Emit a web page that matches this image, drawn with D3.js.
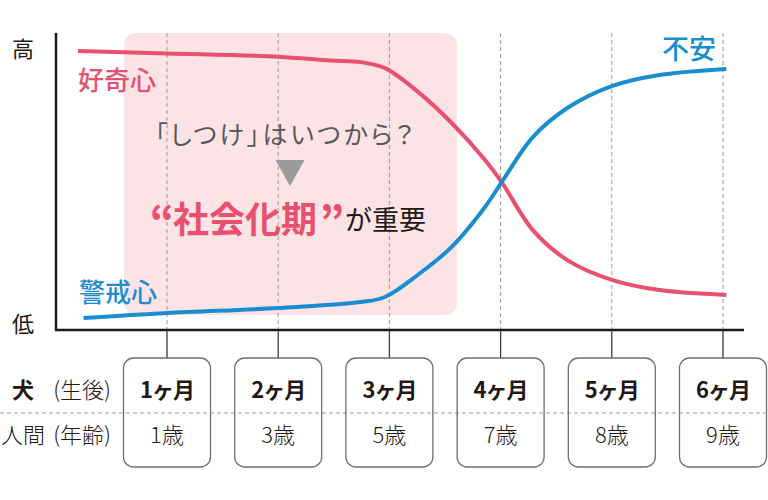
<!DOCTYPE html>
<html>
<head>
<meta charset="utf-8">
<script src="https://cdn.jsdelivr.net/npm/d3@7"></script>
<style>
  body { margin: 0; background: #fff; }
  svg { display: block; font-family: "Noto Sans CJK JP", "Noto Sans", sans-serif; }
  .palt { font-feature-settings: "palt"; }
</style>
</head>
<body>
<svg id="chart" width="768" height="500"></svg>
<script>
(function () {
  'use strict';

  // x = age of the dog in months, y = strength (0 = 低, 100 = 高)
  var months = [1, 2, 3, 4, 5, 6];
  var dogLabels = ['1ヶ月', '2ヶ月', '3ヶ月', '4ヶ月', '5ヶ月', '6ヶ月'];
  var humanLabels = ['1歳', '3歳', '5歳', '7歳', '8歳', '9歳'];

  // 好奇心 (curiosity)
  var curiosity = [
    [0.2, 93.0], [1.0, 92.2], [2.0, 91.1], [2.47, 89.8], [2.74, 89.3],
    [2.96, 87.3], [3.26, 79.3], [3.56, 69.0], [3.86, 56.7], [4.01, 49.3],
    [4.29, 33.3], [4.6, 23.3], [5.0, 16.7], [5.43, 13.3], [6.03, 11.7]
  ];
  // 警戒心 -> 不安 (caution)
  var caution = [
    [0.25, 4.0], [1.0, 5.7], [2.0, 7.3], [2.74, 9.3], [2.96, 11.0],
    [3.26, 18.5], [3.56, 27.7], [3.86, 41.0], [4.01, 49.3], [4.29, 64.3],
    [4.6, 74.0], [5.0, 81.3], [5.43, 85.0], [6.03, 87.0]
  ];

  var RED = '#e8506e';
  var BLUE = '#1a8dd0';
  var INK = '#231815';

  var svg = d3.select('#chart');

  var x = d3.scaleLinear().domain([1, 6]).range([167, 723]);
  var y = d3.scaleLinear().domain([0, 100]).range([330, 30]);

  var axisLeft = 56;
  var axisRight = 744;
  var axisY = y(0);
  var plotTop = 33;

  // socialization period highlight
  svg.append('rect')
    .attr('x', 124)
    .attr('y', plotTop)
    .attr('width', 457 - 124)
    .attr('height', 315 - plotTop)
    .attr('rx', 12)
    .attr('fill', '#fce4e6');

  // dashed month gridlines
  svg.selectAll('.grid')
    .data(months)
    .enter()
    .append('line')
    .attr('class', 'grid')
    .attr('x1', function(d) { return x(d); })
    .attr('x2', function(d) { return x(d); })
    .attr('y1', plotTop)
    .attr('y2', axisY)
    .attr('stroke', '#9a9a9a')
    .attr('stroke-width', 1)
    .attr('stroke-dasharray', '4,3');

  // text inside the highlight
  var cx = 290;
  svg.append('text')
    .attr('class', 'palt')
    .attr('x', 155)
    .attr('y', 133)
    .attr('dominant-baseline', 'central')
    .attr('font-size', 25)
    .attr('letter-spacing', 3)
    .attr('fill', '#595757')
    .text('「しつけ」はいつから？');

  svg.append('path')
    .attr('d', 'M' + (cx - 14.5) + ',160L' + (cx + 14.5) + ',160L' + cx + ',186Z')
    .attr('fill', '#9b9b9b');

  var hy = 217;
  svg.append('text')
    .attr('x', 174)
    .attr('y', hy)
    .attr('text-anchor', 'end')
    .attr('dominant-baseline', 'central')
    .attr('font-size', 38)
    .attr('font-weight', 900)
    .attr('fill', RED)
    .text('“');
  svg.append('text')
    .attr('x', 173)
    .attr('y', hy)
    .attr('dominant-baseline', 'central')
    .attr('font-size', 36)
    .attr('font-weight', 700)
    .attr('fill', RED)
    .text('社会化期');
  svg.append('text')
    .attr('x', 320)
    .attr('y', hy)
    .attr('dominant-baseline', 'central')
    .attr('font-size', 38)
    .attr('font-weight', 900)
    .attr('fill', RED)
    .text('”');
  svg.append('text')
    .attr('x', 345)
    .attr('y', hy + 1)
    .attr('dominant-baseline', 'central')
    .attr('font-size', 27)
    .attr('fill', INK)
    .text('が重要');

  // curves
  var line = d3.line()
    .x(function(d) { return x(d[0]); })
    .y(function(d) { return y(d[1]); })
    .curve(d3.curveCatmullRom.alpha(0.5));

  svg.append('path')
    .datum(curiosity)
    .attr('d', line)
    .attr('fill', 'none')
    .attr('stroke', RED)
    .attr('stroke-width', 4);

  svg.append('path')
    .datum(caution)
    .attr('d', line)
    .attr('fill', 'none')
    .attr('stroke', BLUE)
    .attr('stroke-width', 4);

  // series labels
  svg.append('text')
    .attr('x', 78).attr('y', 78)
    .attr('dominant-baseline', 'central')
    .attr('font-size', 26).attr('font-weight', 500)
    .attr('fill', RED)
    .text('好奇心');
  svg.append('text')
    .attr('x', 79).attr('y', 290)
    .attr('dominant-baseline', 'central')
    .attr('font-size', 26).attr('font-weight', 500)
    .attr('fill', BLUE)
    .text('警戒心');
  svg.append('text')
    .attr('x', 716).attr('y', 47)
    .attr('text-anchor', 'end')
    .attr('dominant-baseline', 'central')
    .attr('font-size', 27).attr('font-weight', 500)
    .attr('fill', BLUE)
    .text('不安');

  // axes
  svg.append('line')
    .attr('x1', axisLeft).attr('x2', axisLeft)
    .attr('y1', plotTop).attr('y2', axisY + 1)
    .attr('stroke', INK).attr('stroke-width', 2.5);
  svg.append('line')
    .attr('x1', axisLeft - 1).attr('x2', axisRight)
    .attr('y1', axisY).attr('y2', axisY)
    .attr('stroke', INK).attr('stroke-width', 2.5);

  svg.append('text')
    .attr('x', 23).attr('y', 47)
    .attr('text-anchor', 'middle')
    .attr('dominant-baseline', 'central')
    .attr('font-size', 22).attr('fill', INK)
    .text('高');
  svg.append('text')
    .attr('x', 23).attr('y', 322)
    .attr('text-anchor', 'middle')
    .attr('dominant-baseline', 'central')
    .attr('font-size', 22).attr('fill', INK)
    .text('低');

  // bottom table
  var boxTop = 358;
  var boxBottom = 467;
  var boxW = 87;
  var row1 = 388;
  var row2 = 433;

  svg.append('line')
    .attr('x1', 0).attr('x2', 768)
    .attr('y1', 413).attr('y2', 413)
    .attr('stroke', '#9a9a9a')
    .attr('stroke-width', 1)
    .attr('stroke-dasharray', '4,3');

  var cell = svg.selectAll('.cell')
    .data(months)
    .enter()
    .append('g')
    .attr('class', 'cell')
    .attr('transform', function(d) { return 'translate(' + x(d) + ',0)'; });

  cell.append('line')
    .attr('y1', axisY).attr('y2', boxTop)
    .attr('stroke', '#3e3a39').attr('stroke-width', 1.3);

  cell.append('rect')
    .attr('x', -boxW / 2)
    .attr('y', boxTop)
    .attr('width', boxW)
    .attr('height', boxBottom - boxTop)
    .attr('rx', 10)
    .attr('fill', 'none')
    .attr('stroke', '#6f6f6f')
    .attr('stroke-width', 1.3);

  cell.append('text')
    .attr('y', row1)
    .attr('text-anchor', 'middle')
    .attr('dominant-baseline', 'central')
    .attr('font-size', 22).attr('font-weight', 700)
    .attr('letter-spacing', -1)
    .attr('fill', INK)
    .text(function(d, i) { return dogLabels[i]; });

  cell.append('text')
    .attr('y', row2)
    .attr('text-anchor', 'middle')
    .attr('dominant-baseline', 'central')
    .attr('font-size', 22).attr('font-weight', 300)
    .attr('fill', INK)
    .text(function(d, i) { return humanLabels[i]; });

  // row headers
  svg.append('text')
    .attr('x', 12).attr('y', row1)
    .attr('dominant-baseline', 'central')
    .attr('font-size', 22).attr('font-weight', 700)
    .attr('fill', INK)
    .text('犬');
  svg.append('text')
    .attr('x', 111).attr('y', row1)
    .attr('text-anchor', 'end')
    .attr('dominant-baseline', 'central')
    .attr('font-size', 22).attr('font-weight', 300)
    .attr('fill', INK)
    .text('(生後)');
  svg.append('text')
    .attr('x', 1).attr('y', row2)
    .attr('dominant-baseline', 'central')
    .attr('font-size', 22).attr('font-weight', 300)
    .attr('fill', INK)
    .text('人間');
  svg.append('text')
    .attr('x', 111).attr('y', row2)
    .attr('text-anchor', 'end')
    .attr('dominant-baseline', 'central')
    .attr('font-size', 22).attr('font-weight', 300)
    .attr('fill', INK)
    .text('(年齢)');
}());
</script>
</body>
</html>
